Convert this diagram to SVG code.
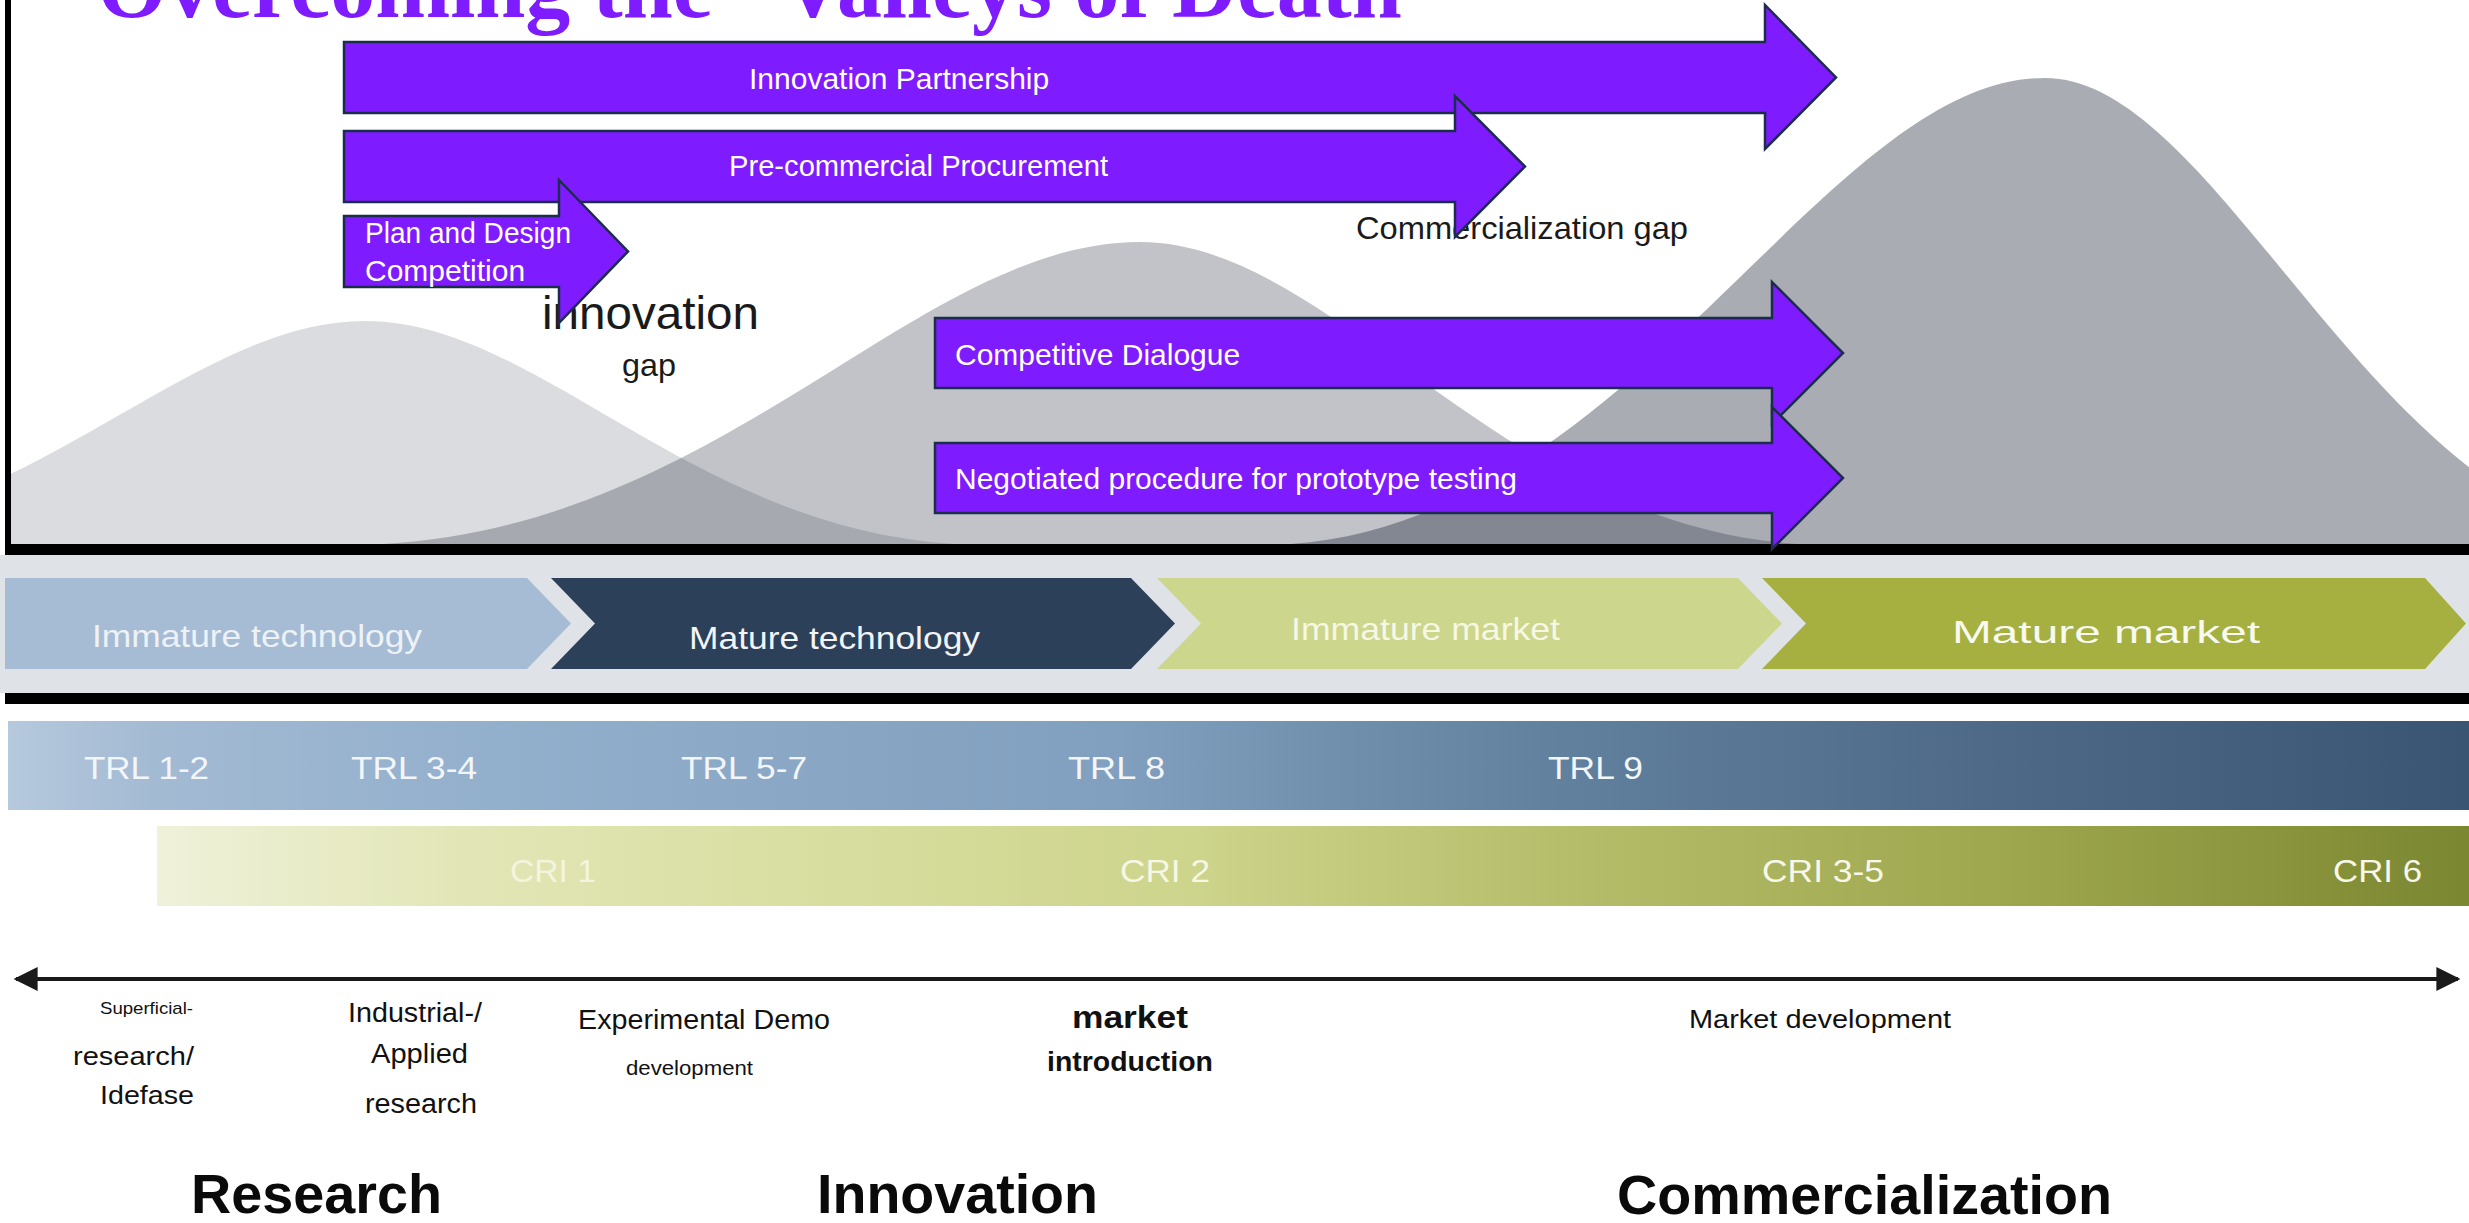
<svg xmlns="http://www.w3.org/2000/svg" width="2469" height="1223" viewBox="0 0 2469 1223">
<style>
.title{font-family:"Liberation Serif","Times New Roman",serif;font-weight:bold;font-size:90px;fill:#7F1BFF}
.parrow{fill:#7F1BFF;stroke:#1c2c4c;stroke-width:2.5;stroke-linejoin:miter}
.plbl{font-family:"Liberation Sans",Arial,sans-serif;font-size:30px;fill:#ffffff}
.gap{font-family:"Liberation Sans",Arial,sans-serif;fill:#1a1a1a}
.mtn{fill:#20283a}
.chv{font-family:"Liberation Sans",Arial,sans-serif;font-size:32px}
.bar{font-family:"Liberation Sans",Arial,sans-serif;font-size:32px}
.blk{font-family:"Liberation Sans",Arial,sans-serif;fill:#111111}
.hd{font-family:"Liberation Sans",Arial,sans-serif;font-weight:bold;font-size:56px;fill:#0a0a0a}
.rule{fill:#000000}
</style>
<defs>
<clipPath id="mclip"><rect x="11" y="0" width="2458" height="544"/></clipPath>
<linearGradient id="trl" x1="0" y1="0" x2="1" y2="0">
<stop offset="0" stop-color="#b6c9dd"/>
<stop offset="0.06" stop-color="#a3bad3"/>
<stop offset="0.2" stop-color="#92afcc"/>
<stop offset="0.45" stop-color="#819fbe"/>
<stop offset="0.62" stop-color="#62829f"/>
<stop offset="0.8" stop-color="#4f6a89"/>
<stop offset="1" stop-color="#3a5574"/>
</linearGradient>
<linearGradient id="cri" x1="0" y1="0" x2="1" y2="0">
<stop offset="0" stop-color="#eff1da"/>
<stop offset="0.12" stop-color="#e3e7b9"/>
<stop offset="0.3" stop-color="#d7dd9e"/>
<stop offset="0.45" stop-color="#cdd48b"/>
<stop offset="0.62" stop-color="#b4bc69"/>
<stop offset="0.8" stop-color="#9ea74d"/>
<stop offset="1" stop-color="#7b8731"/>
</linearGradient>
<marker id="ah" viewBox="0 0 10 10" refX="9" refY="5" markerWidth="6" markerHeight="6" orient="auto-start-reverse" markerUnits="strokeWidth">
<path d="M0,0 L10,5 L0,10 z" fill="#1a1a1a"/>
</marker>
</defs>

<rect x="0" y="0" width="2469" height="1223" fill="#ffffff"/>

<g id="mountains" clip-path="url(#mclip)">
<path class="mtn" fill-opacity="0.16" d="M -272 545 C 22 545 181 321 365 321 C 545 321 701 545 989 545 Z"/>
<path class="mtn" fill-opacity="0.28" d="M 347 545 C 713 545 911 242 1140 242 C 1339 242 1511 545 1829 545 Z"/>
<path class="mtn" fill-opacity="0.386" d="M 1262 545 C 1624 545 1819 78 2045 78 C 2225 78 2381 545 2669 545 Z"/>
</g>

<g id="frame">
<rect class="rule" x="5" y="0" width="6" height="552"/>
<rect class="rule" x="5" y="544" width="2464" height="11"/>
<rect x="0" y="555" width="2469" height="138" fill="#dfe3e8"/>
<rect class="rule" x="5" y="693" width="2464" height="11"/>
</g>

<g id="title">
<text class="title" x="97" y="17">Overcoming the “Valleys of Death”</text>
</g>

<g id="gap-labels">
<text class="gap" x="542" y="329" font-size="47" textLength="217" lengthAdjust="spacingAndGlyphs">innovation</text>
<text class="gap" x="622" y="376" font-size="32" textLength="54" lengthAdjust="spacingAndGlyphs">gap</text>
<text class="gap" x="1356" y="239" font-size="32" textLength="332" lengthAdjust="spacingAndGlyphs">Commercialization gap</text>
</g>

<g id="innovation-partnership">
<polygon class="parrow" points="344,42 1765,42 1765,5 1836,77.5 1765,149 1765,113 344,113"/>
<text class="plbl" x="749" y="89">Innovation Partnership</text>
</g>
<g id="pre-commercial-procurement">
<polygon class="parrow" points="344,131 1455,131 1455,96 1525,166.5 1455,237 1455,202 344,202"/>
<text class="plbl" x="729" y="176" textLength="379" lengthAdjust="spacingAndGlyphs">Pre-commercial Procurement</text>
</g>
<g id="plan-design-competition">
<polygon class="parrow" points="344,216 559,216 559,180 628,251.5 559,323 559,287 344,287"/>
<text class="plbl" x="365" y="243" textLength="206" lengthAdjust="spacingAndGlyphs">Plan and Design</text>
<text class="plbl" x="365" y="281">Competition</text>
</g>
<g id="competitive-dialogue">
<polygon class="parrow" points="935,318 1772,318 1772,282 1843,353 1772,424 1772,388 935,388"/>
<text class="plbl" x="955" y="365">Competitive Dialogue</text>
</g>
<g id="negotiated-procedure">
<polygon class="parrow" points="935,443 1772,443 1772,407 1843,478 1772,549 1772,513 935,513"/>
<text class="plbl" x="955" y="489">Negotiated procedure for prototype testing</text>
</g>

<g id="immature-technology">
<polygon points="5,578 527,578 571,623.5 527,669 5,669" fill="#a6bcd4"/>
<text class="chv" x="92" y="647" fill="#eef2f7" textLength="330" lengthAdjust="spacingAndGlyphs">Immature technology</text>
</g>
<g id="mature-technology">
<polygon points="551,578 1131,578 1175,623.5 1131,669 551,669 595,623.5" fill="#2c4059"/>
<text class="chv" x="689" y="649" fill="#f2f4f7" textLength="291" lengthAdjust="spacingAndGlyphs">Mature technology</text>
</g>
<g id="immature-market">
<polygon points="1157,578 1738,578 1782,623.5 1738,669 1157,669 1201,623.5" fill="#ccd68c"/>
<text class="chv" x="1291" y="640" fill="#f6f8e4" textLength="269" lengthAdjust="spacingAndGlyphs">Immature market</text>
</g>
<g id="mature-market">
<polygon points="1762,578 2425,578 2466,623.5 2425,669 1762,669 1806,623.5" fill="#a5b040"/>
<text class="chv" x="1952" y="643" font-size="45" fill="#f8f9ef" textLength="308" lengthAdjust="spacingAndGlyphs">Mature market</text>
</g>

<g id="trl-bar">
<rect x="8" y="721" width="2461" height="89" fill="url(#trl)"/>
<text class="bar" x="84" y="779" fill="#f3f6f9" textLength="125" lengthAdjust="spacingAndGlyphs">TRL 1-2</text>
<text class="bar" x="351" y="779" fill="#f3f6f9" textLength="126" lengthAdjust="spacingAndGlyphs">TRL 3-4</text>
<text class="bar" x="681" y="779" fill="#f3f6f9" textLength="126" lengthAdjust="spacingAndGlyphs">TRL 5-7</text>
<text class="bar" x="1068" y="779" fill="#f3f6f9" textLength="97" lengthAdjust="spacingAndGlyphs">TRL 8</text>
<text class="bar" x="1548" y="779" fill="#f3f6f9" textLength="95" lengthAdjust="spacingAndGlyphs">TRL 9</text>
</g>

<g id="cri-bar">
<rect x="157" y="826" width="2312" height="80" fill="url(#cri)"/>
<text class="bar" x="510" y="882" fill="#f4f5de" textLength="86" lengthAdjust="spacingAndGlyphs">CRI 1</text>
<text class="bar" x="1120" y="882" fill="#f6f7e4" textLength="90" lengthAdjust="spacingAndGlyphs">CRI 2</text>
<text class="bar" x="1762" y="882" fill="#f8f8ea" textLength="122" lengthAdjust="spacingAndGlyphs">CRI 3-5</text>
<text class="bar" x="2333" y="882" fill="#f8f8ea" textLength="89" lengthAdjust="spacingAndGlyphs">CRI 6</text>
</g>

<g id="connectors">
<line x1="16" y1="979" x2="2458" y2="979" stroke="#1a1a1a" stroke-width="4" marker-start="url(#ah)" marker-end="url(#ah)"/>
</g>

<g id="phase-labels">
<text class="blk" x="100" y="1014" font-size="17" textLength="93" lengthAdjust="spacingAndGlyphs">Superficial-</text>
<text class="blk" x="73" y="1065" font-size="25" textLength="121" lengthAdjust="spacingAndGlyphs">research/</text>
<text class="blk" x="100" y="1104" font-size="25" textLength="94" lengthAdjust="spacingAndGlyphs">Idefase</text>
<text class="blk" x="348" y="1022" font-size="27" textLength="134" lengthAdjust="spacingAndGlyphs">Industrial-/</text>
<text class="blk" x="371" y="1063" font-size="27" textLength="97" lengthAdjust="spacingAndGlyphs">Applied</text>
<text class="blk" x="365" y="1113" font-size="27" textLength="112" lengthAdjust="spacingAndGlyphs">research</text>
<text class="blk" x="578" y="1029" font-size="27" textLength="252" lengthAdjust="spacingAndGlyphs">Experimental Demo</text>
<text class="blk" x="626" y="1075" font-size="20" textLength="127" lengthAdjust="spacingAndGlyphs">development</text>
<text class="blk" x="1072" y="1028" font-size="31" font-weight="bold" textLength="116" lengthAdjust="spacingAndGlyphs">market</text>
<text class="blk" x="1047" y="1071" font-size="27" font-weight="bold" textLength="166" lengthAdjust="spacingAndGlyphs">introduction</text>
<text class="blk" x="1689" y="1028" font-size="26" textLength="262" lengthAdjust="spacingAndGlyphs">Market development</text>
</g>

<g id="phases">
<text class="hd" x="191" y="1213" textLength="251" lengthAdjust="spacingAndGlyphs">Research</text>
<text class="hd" x="817" y="1213" textLength="281" lengthAdjust="spacingAndGlyphs">Innovation</text>
<text class="hd" x="1617" y="1214" textLength="495" lengthAdjust="spacingAndGlyphs">Commercialization</text>
</g>
</svg>
